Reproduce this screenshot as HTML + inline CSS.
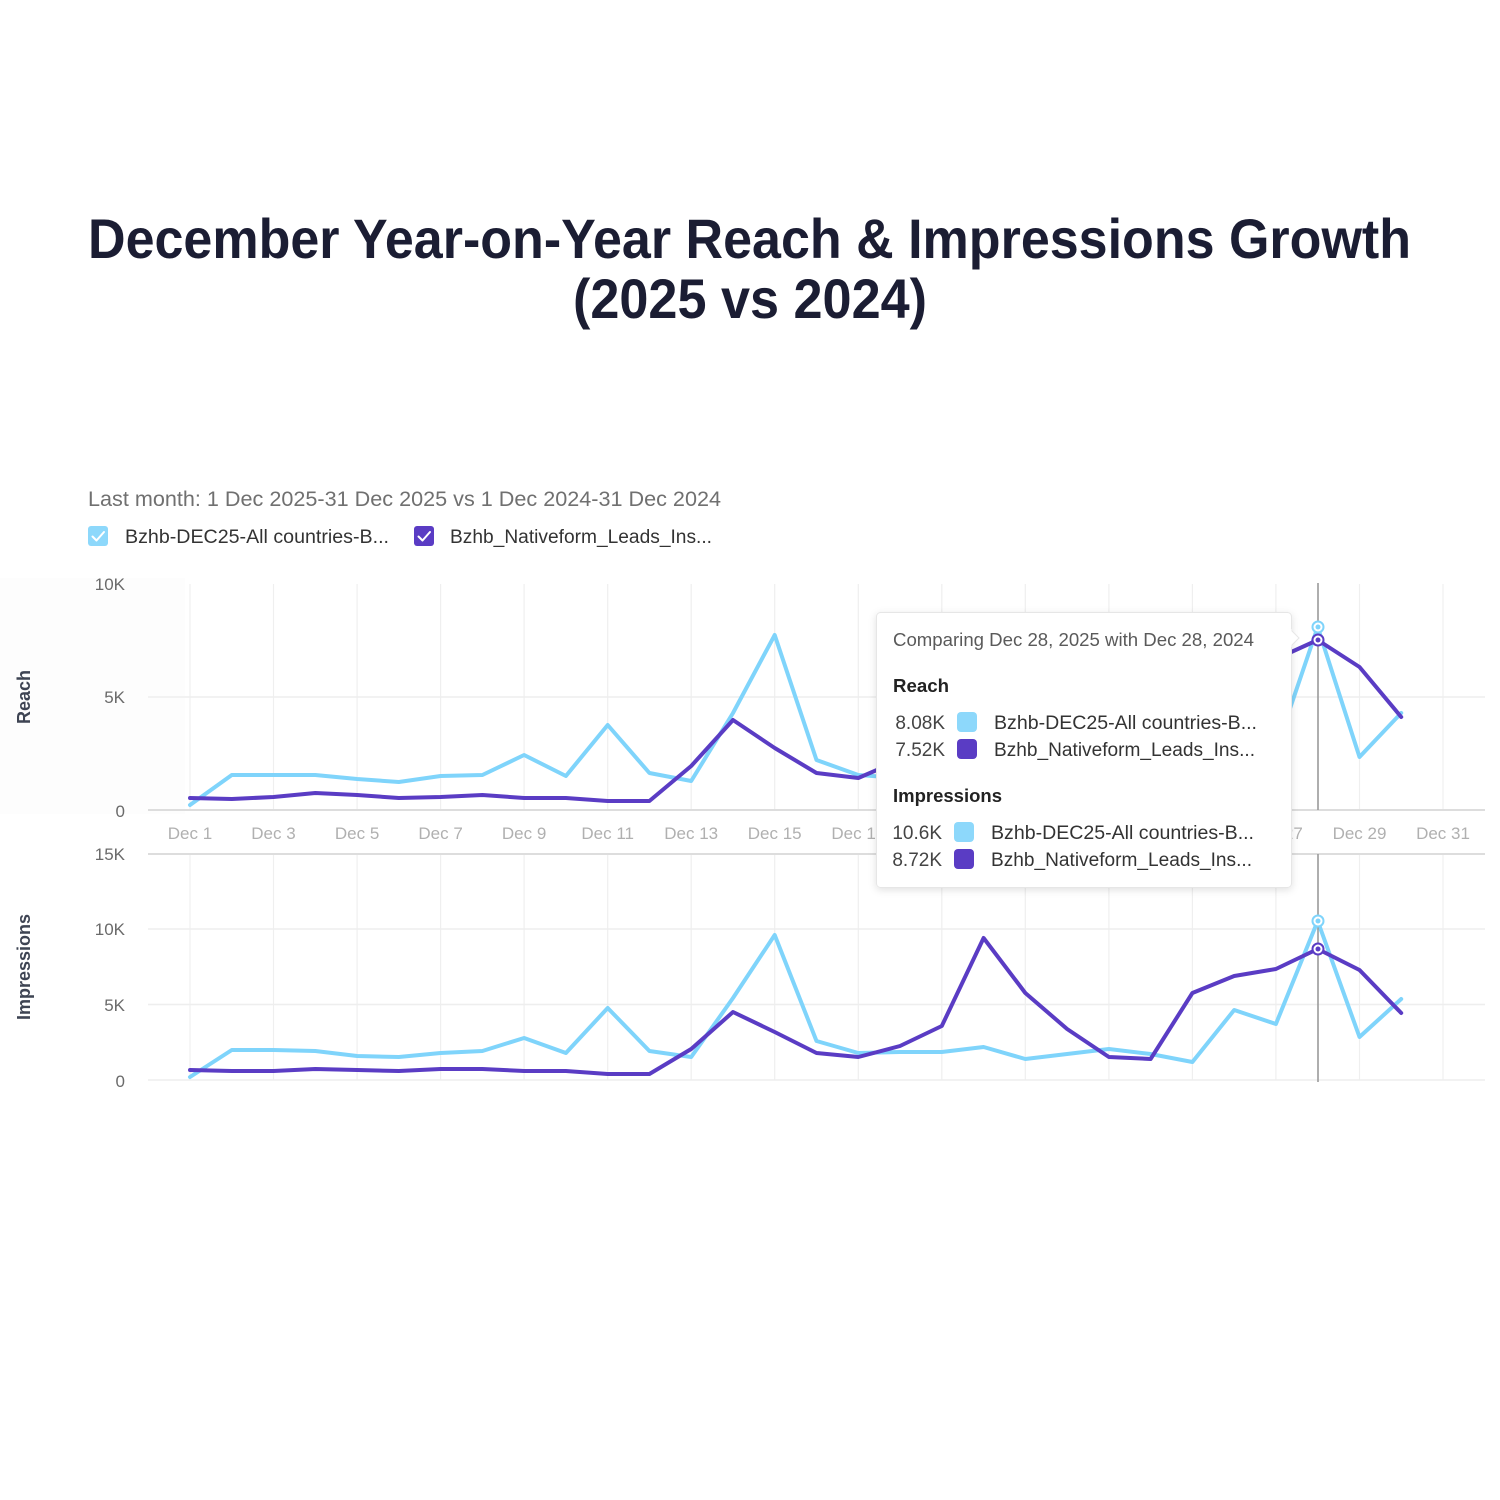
<!DOCTYPE html>
<html>
<head>
<meta charset="utf-8">
<style>
  html,body{margin:0;padding:0;background:#ffffff;}
  body{width:1500px;height:1500px;overflow:hidden;}
  svg{display:block;}
  text{font-family:"Liberation Sans", Arial, sans-serif;}
</style>
</head>
<body>
<svg width="1500" height="1500" viewBox="0 0 1500 1500" xmlns="http://www.w3.org/2000/svg">
  <defs>
    <filter id="sh" x="-10%" y="-10%" width="120%" height="125%">
      <feDropShadow dx="0" dy="2" stdDeviation="4" flood-color="#000" flood-opacity="0.12"/>
    </filter>
  </defs>
  <rect width="1500" height="1500" fill="#ffffff"/>

  <!-- Title -->
  <text x="88" y="258" font-size="56" font-weight="bold" fill="#1b1d33" textLength="1323" lengthAdjust="spacingAndGlyphs">December Year-on-Year Reach &amp; Impressions Growth</text>
  <text x="573" y="318" font-size="56" font-weight="bold" fill="#1b1d33" textLength="354" lengthAdjust="spacingAndGlyphs">(2025 vs 2024)</text>

  <!-- Subtitle -->
  <text x="88" y="506" font-size="21" fill="#707070" textLength="633" lengthAdjust="spacingAndGlyphs">Last month: 1 Dec 2025-31 Dec 2025 vs 1 Dec 2024-31 Dec 2024</text>

  <!-- Legend -->
  <rect x="88" y="526" width="20" height="20" rx="3" fill="#8dd8fb"/>
  <path d="M92.5 536.5 L96.5 540.5 L104 532" stroke="#ffffff" stroke-width="2" fill="none" stroke-linecap="round" stroke-linejoin="round"/>
  <text x="125" y="543" font-size="19" fill="#333333" textLength="264" lengthAdjust="spacingAndGlyphs">Bzhb-DEC25-All countries-B...</text>
  <rect x="414" y="526" width="20" height="20" rx="3" fill="#5a3cc4"/>
  <path d="M418.5 536.5 L422.5 540.5 L430 532" stroke="#ffffff" stroke-width="2" fill="none" stroke-linecap="round" stroke-linejoin="round"/>
  <text x="450" y="543" font-size="19" fill="#333333" textLength="262" lengthAdjust="spacingAndGlyphs">Bzhb_Nativeform_Leads_Ins...</text>

  <!-- faint left panel shading -->
  <rect x="0" y="578" width="185" height="236" fill="#fdfdfd"/>

  <!-- Vertical gridlines (odd days) -->
  <g stroke="#efefef" stroke-width="1.2">
    <line x1="190" y1="584" x2="190" y2="810"/><line x1="190" y1="854" x2="190" y2="1080"/>
    <line x1="273.5" y1="584" x2="273.5" y2="810"/><line x1="273.5" y1="854" x2="273.5" y2="1080"/>
    <line x1="357.1" y1="584" x2="357.1" y2="810"/><line x1="357.1" y1="854" x2="357.1" y2="1080"/>
    <line x1="440.6" y1="584" x2="440.6" y2="810"/><line x1="440.6" y1="854" x2="440.6" y2="1080"/>
    <line x1="524.1" y1="584" x2="524.1" y2="810"/><line x1="524.1" y1="854" x2="524.1" y2="1080"/>
    <line x1="607.7" y1="584" x2="607.7" y2="810"/><line x1="607.7" y1="854" x2="607.7" y2="1080"/>
    <line x1="691.2" y1="584" x2="691.2" y2="810"/><line x1="691.2" y1="854" x2="691.2" y2="1080"/>
    <line x1="774.7" y1="584" x2="774.7" y2="810"/><line x1="774.7" y1="854" x2="774.7" y2="1080"/>
    <line x1="858.3" y1="584" x2="858.3" y2="810"/><line x1="858.3" y1="854" x2="858.3" y2="1080"/>
    <line x1="941.8" y1="584" x2="941.8" y2="810"/><line x1="941.8" y1="854" x2="941.8" y2="1080"/>
    <line x1="1025.3" y1="584" x2="1025.3" y2="810"/><line x1="1025.3" y1="854" x2="1025.3" y2="1080"/>
    <line x1="1108.9" y1="584" x2="1108.9" y2="810"/><line x1="1108.9" y1="854" x2="1108.9" y2="1080"/>
    <line x1="1192.4" y1="584" x2="1192.4" y2="810"/><line x1="1192.4" y1="854" x2="1192.4" y2="1080"/>
    <line x1="1275.9" y1="584" x2="1275.9" y2="810"/><line x1="1275.9" y1="854" x2="1275.9" y2="1080"/>
    <line x1="1359.5" y1="584" x2="1359.5" y2="810"/><line x1="1359.5" y1="854" x2="1359.5" y2="1080"/>
    <line x1="1443" y1="584" x2="1443" y2="810"/><line x1="1443" y1="854" x2="1443" y2="1080"/>
  </g>

  <!-- Horizontal gridlines -->
  <g stroke="#eeeeee" stroke-width="1.5">
    <line x1="148" y1="697" x2="1485" y2="697"/>
    <line x1="148" y1="929" x2="1485" y2="929"/>
    <line x1="148" y1="1004.5" x2="1485" y2="1004.5"/>
    <line x1="148" y1="1080" x2="1485" y2="1080"/>
  </g>
  <g stroke="#dddddd" stroke-width="2">
    <line x1="148" y1="810" x2="1485" y2="810"/>
    <line x1="148" y1="854" x2="1485" y2="854"/>
  </g>

  <!-- Y axis labels -->
  <g font-size="17" fill="#6a6a6a" text-anchor="end">
    <text x="125" y="590">10K</text>
    <text x="125" y="703">5K</text>
    <text x="125" y="817">0</text>
    <text x="125" y="860">15K</text>
    <text x="125" y="935">10K</text>
    <text x="125" y="1011">5K</text>
    <text x="125" y="1087">0</text>
  </g>
  <text transform="translate(30,697) rotate(-90)" text-anchor="middle" font-size="18" font-weight="bold" fill="#3e4453">Reach</text>
  <text transform="translate(30,967) rotate(-90)" text-anchor="middle" font-size="18" font-weight="bold" fill="#3e4453">Impressions</text>

  <!-- X axis labels -->
  <g font-size="17" fill="#b0b0b0" text-anchor="middle">
    <text x="190" y="839">Dec 1</text>
    <text x="273.5" y="839">Dec 3</text>
    <text x="357.1" y="839">Dec 5</text>
    <text x="440.6" y="839">Dec 7</text>
    <text x="524.1" y="839">Dec 9</text>
    <text x="607.7" y="839">Dec 11</text>
    <text x="691.2" y="839">Dec 13</text>
    <text x="774.7" y="839">Dec 15</text>
    <text x="858.3" y="839">Dec 17</text>
    <text x="941.8" y="839">Dec 19</text>
    <text x="1025.3" y="839">Dec 21</text>
    <text x="1108.9" y="839">Dec 23</text>
    <text x="1192.4" y="839">Dec 25</text>
    <text x="1275.9" y="839">Dec 27</text>
    <text x="1359.5" y="839">Dec 29</text>
    <text x="1443" y="839">Dec 31</text>
  </g>

  <!-- Series: Reach -->
  <polyline fill="none" stroke="#7fd4fb" stroke-width="4" stroke-linejoin="round" stroke-linecap="round"
    points="190,805 231.8,775 273.5,775 315.3,775 357.1,779 398.8,782 440.6,776 482.4,775 524.1,755 565.9,776 607.7,725 649.4,773 691.2,781 733,713 774.7,635 816.5,760 858.3,775 900,778 941.8,778 983.6,773 1025.3,786 1067.1,781 1108.9,775 1150.6,781 1192.4,790 1234.2,730 1275.9,750 1317.7,627 1359.5,757 1401.2,713"/>
  <polyline fill="none" stroke="#5a3cc4" stroke-width="4" stroke-linejoin="round" stroke-linecap="round"
    points="190,798 231.8,799 273.5,797 315.3,793 357.1,795 398.8,798 440.6,797 482.4,795 524.1,798 565.9,798 607.7,801 649.4,801 691.2,766 733,720 774.7,748 816.5,773 858.3,778 900,760 941.8,742 983.6,628 1025.3,699 1067.1,745 1108.9,782 1150.6,784 1192.4,699 1234.2,677 1275.9,659 1317.7,640 1359.5,667 1401.2,717"/>

  <!-- Series: Impressions -->
  <polyline fill="none" stroke="#7fd4fb" stroke-width="4" stroke-linejoin="round" stroke-linecap="round"
    points="190,1077 231.8,1050 273.5,1050 315.3,1051 357.1,1056 398.8,1057 440.6,1053 482.4,1051 524.1,1038 565.9,1053 607.7,1008 649.4,1051 691.2,1057 733,998 774.7,935 816.5,1041 858.3,1053 900,1052 941.8,1052 983.6,1047 1025.3,1059 1067.1,1054 1108.9,1049 1150.6,1054 1192.4,1062 1234.2,1010 1275.9,1024 1317.7,921 1359.5,1037 1401.2,999"/>
  <polyline fill="none" stroke="#5a3cc4" stroke-width="4" stroke-linejoin="round" stroke-linecap="round"
    points="190,1070 231.8,1071 273.5,1071 315.3,1069 357.1,1070 398.8,1071 440.6,1069 482.4,1069 524.1,1071 565.9,1071 607.7,1074 649.4,1074 691.2,1049 733,1012 774.7,1032 816.5,1053 858.3,1057 900,1046 941.8,1026 983.6,938 1025.3,993 1067.1,1029 1108.9,1057 1150.6,1059 1192.4,993 1234.2,976 1275.9,969 1317.7,949 1359.5,970 1401.2,1013"/>

  <!-- Hover line -->
  <g stroke="#9a9a9a" stroke-width="1.6">
    <line x1="1318" y1="583" x2="1318" y2="810"/>
    <line x1="1318" y1="854" x2="1318" y2="1082"/>
  </g>

  <!-- Hover markers -->
  <g stroke-width="2">
    <circle cx="1318" cy="627" r="5.5" fill="#ffffff" stroke="#7fd4fb"/>
    <circle cx="1318" cy="627" r="2.5" fill="#7fd4fb" stroke="none"/>
    <circle cx="1318" cy="640" r="5.5" fill="#ffffff" stroke="#5a3cc4"/>
    <circle cx="1318" cy="640" r="2.5" fill="#5a3cc4" stroke="none"/>
    <circle cx="1318" cy="921" r="5.5" fill="#ffffff" stroke="#7fd4fb"/>
    <circle cx="1318" cy="921" r="2.5" fill="#7fd4fb" stroke="none"/>
    <circle cx="1318" cy="949" r="5.5" fill="#ffffff" stroke="#5a3cc4"/>
    <circle cx="1318" cy="949" r="2.5" fill="#5a3cc4" stroke="none"/>
  </g>

  <!-- Tooltip -->
  <g filter="url(#sh)">
    <rect x="876.5" y="612.5" width="415" height="275" rx="4" fill="#ffffff" stroke="#e6e6e6" stroke-width="1"/>
  </g>
  <path d="M1291 630 L1299 638 L1291 646 Z" fill="#ffffff" stroke="#e6e6e6" stroke-width="1"/>
  <rect x="1289" y="629" width="2.5" height="18" fill="#ffffff"/>

  <text x="893" y="646" font-size="18" fill="#5a5a5a" textLength="361" lengthAdjust="spacingAndGlyphs">Comparing Dec 28, 2025 with Dec 28, 2024</text>
  <text x="893" y="692" font-size="18" font-weight="bold" fill="#222222" textLength="56" lengthAdjust="spacingAndGlyphs">Reach</text>

  <text x="945" y="729" font-size="19" fill="#444444" text-anchor="end">8.08K</text>
  <rect x="957" y="712" width="20" height="20" rx="4" fill="#8dd8fb"/>
  <text x="994" y="729" font-size="19" fill="#333333" textLength="263" lengthAdjust="spacingAndGlyphs">Bzhb-DEC25-All countries-B...</text>

  <text x="945" y="756" font-size="19" fill="#444444" text-anchor="end">7.52K</text>
  <rect x="957" y="739" width="20" height="20" rx="4" fill="#5a3cc4"/>
  <text x="994" y="756" font-size="19" fill="#333333" textLength="261" lengthAdjust="spacingAndGlyphs">Bzhb_Nativeform_Leads_Ins...</text>

  <text x="893" y="802" font-size="18" font-weight="bold" fill="#222222" textLength="109" lengthAdjust="spacingAndGlyphs">Impressions</text>

  <text x="942" y="839" font-size="19" fill="#444444" text-anchor="end">10.6K</text>
  <rect x="954" y="822" width="20" height="20" rx="4" fill="#8dd8fb"/>
  <text x="991" y="839" font-size="19" fill="#333333" textLength="263" lengthAdjust="spacingAndGlyphs">Bzhb-DEC25-All countries-B...</text>

  <text x="942" y="866" font-size="19" fill="#444444" text-anchor="end">8.72K</text>
  <rect x="954" y="849" width="20" height="20" rx="4" fill="#5a3cc4"/>
  <text x="991" y="866" font-size="19" fill="#333333" textLength="261" lengthAdjust="spacingAndGlyphs">Bzhb_Nativeform_Leads_Ins...</text>
</svg>
</body>
</html>
